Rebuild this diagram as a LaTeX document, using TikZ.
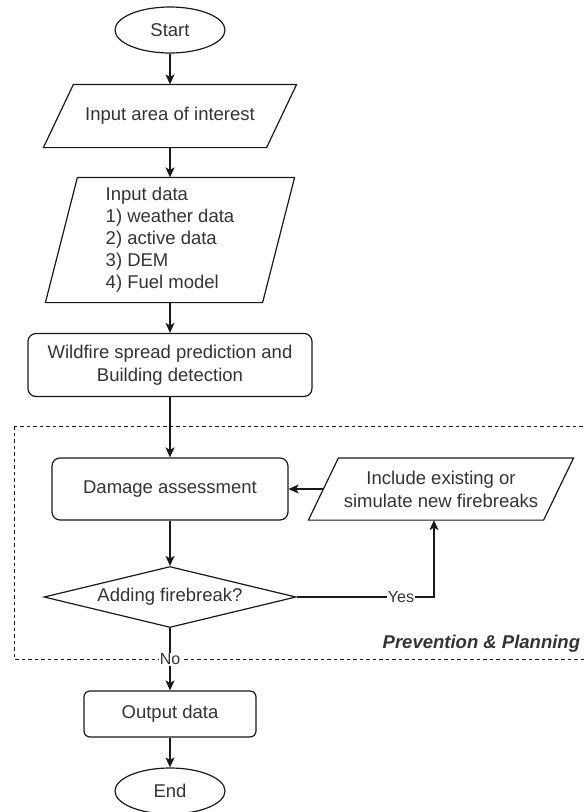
\documentclass[tikz,border=0pt]{standalone}
\usepackage{fontspec}
\setmainfont{Liberation Sans}
\usetikzlibrary{shapes.geometric,arrows.meta}

% slanted data box round a named node, #2 = half the slant
\newcommand{\ioframe}[2]{%
    \draw[black!90] ([xshift=#2]#1.north west) -- ([xshift=#2]#1.north east)
        -- ([xshift=-#2]#1.south east) -- ([xshift=-#2]#1.south west) -- cycle;}

\begin{document}
\begin{tikzpicture}[
            x=1pt, y=-1pt,
            font=\fontsize{18.5}{23}\selectfont,
            line width=1.2pt,
            every node/.style={text=black!80},
            flow/.style={draw=black!90, -{Stealth[length=10pt,width=9pt,inset=2.5pt]}},
            terminal/.style={draw=black!90, ellipse, minimum width=110pt, minimum height=46pt, inner sep=0pt},
            process/.style={draw=black!90, rectangle, rounded corners=8pt, align=center, inner sep=0pt},
            io/.style={rectangle, align=center, inner sep=0pt},
            decision/.style={draw=black!90, diamond, aspect=4, minimum width=252pt, minimum height=61pt, inner sep=0pt},
            edgetext/.style={fill=white, inner sep=1pt, font=\fontsize{16}{19}\selectfont}
        ]

            \useasboundingbox (0, 0) rectangle (586, 812);

            % prevention & planning zone
            \draw[black!90, line width=1pt, dash pattern=on 3.5pt off 3pt] (14, 426) rectangle (595, 659);
            \node[anchor=east, font=\fontsize{18.5}{23}\selectfont\bfseries\itshape] (zone) at (584, 644) {Prevention \& Planning};

            \node[terminal] (start) at (170, 30) {Start};
            \node[io, minimum width=222pt, minimum height=62pt] (area) at (170, 116) {Input area of interest};
            \node[io, minimum width=216pt, minimum height=124pt, align=left, font=\fontsize{18.5}{22}\selectfont] (data) at (170, 240) {Input data\\1) weather data\\2) active data\\3) DEM\\4) Fuel model};
            \node[process, minimum width=284pt, minimum height=63pt] (predict) at (170, 365) {Wildfire spread prediction and\\Building detection};
            \node[process, minimum width=236pt, minimum height=62pt] (damage) at (170, 489) {Damage assessment};
            \node[io, minimum width=234pt, minimum height=61pt] (include) at (441, 489) {Include existing or\\simulate new firebreaks};
            \node[decision] (firebreak) at (170, 597) {Adding firebreak?};
            \node[process, rounded corners=6pt, minimum width=172pt, minimum height=46pt] (output) at (170, 714) {Output data};
            \node[terminal] (end) at (170, 791) {End};

            \ioframe{area}{15pt}
            \ioframe{data}{16pt}
            \ioframe{include}{15pt}

            \draw[flow] (start) -- (area);
            \draw[flow] (area) -- (data);
            \draw[flow] (data) -- (predict);
            \draw[flow] (predict) -- (damage);
            \draw[flow] (damage) -- (firebreak);
            \draw[flow] (firebreak) -- node[edgetext] {No} (output);
            \draw[flow] (output) -- (end);
            \draw[flow] (include.west) -- (damage);
            \draw[flow] (firebreak.east) -| node[edgetext, pos=0.38] {Yes} ([xshift=-7pt]include.south);
        \end{tikzpicture}
\end{document}
